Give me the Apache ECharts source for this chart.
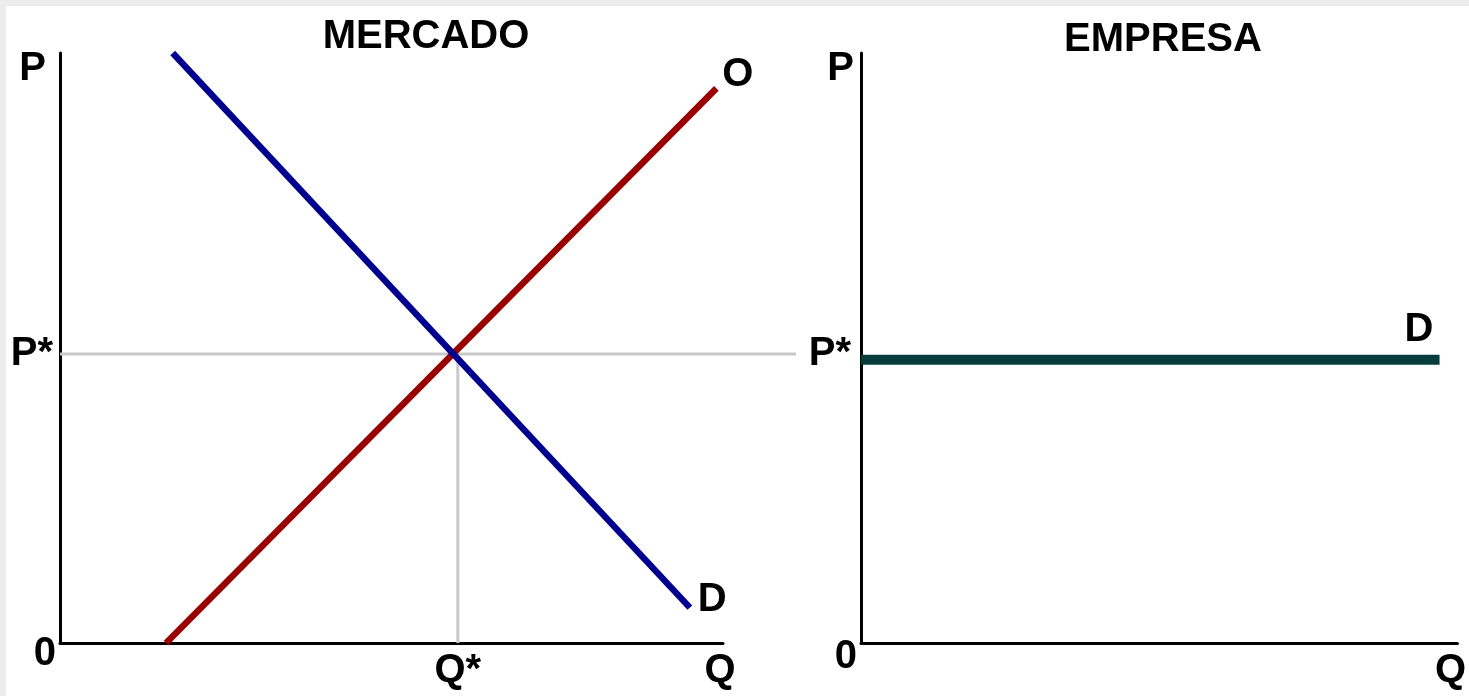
<!DOCTYPE html>
<html>
<head>
<meta charset="utf-8">
<title>Mercado y empresa</title>
<script src="https://cdn.jsdelivr.net/npm/echarts@6/dist/echarts.min.js"></script>
<style>
    html, body { margin: 0; padding: 0; }
    #frame { position: relative; width: 1469px; height: 696px; background: #ececec; }
    #paper { position: absolute; left: 6px; top: 6px; right: 0; bottom: 0; background: #fff; }
    #chart { position: absolute; left: 0; top: 0; width: 1469px; height: 696px; }
</style>
</head>
<body>
<div id="frame">
    <div id="paper"></div>
    <div id="chart"></div>
</div>
<script>
/* global echarts */

// 面板标题
var panelTitles = ['MERCADO', 'EMPRESA'];

// 市场：需求 D 与供给 O（Q, P）
var demandQ = [17, 95];
var demandP = [100, 6];
var supplyQ = [16, 99];
var supplyP = [0, 94];

// 均衡点
var eqQ = 60;
var eqP = 49;
// 水平虚线向右延伸到的位置（超出 Q 轴末端）
var guideEndQ = 111;

// 企业：水平需求线
var firmQ = [0, 97];
var firmP = [48, 48];

// 坐标轴文字
var axisNames = { price: 'P', quantity: 'Q' };
var tickText = { origin: '0', price: 'P*', quantity: 'Q*' };

var FONT = 'Liberation Sans';
var textBase = {
    fontFamily: FONT,
    fontWeight: 'bold',
    fontSize: 40,
    color: '#000'
};

// 市场面板的像素尺寸，辅助网格按同一比例延伸
var marketGrid = { left: 60, top: 53, width: 663, height: 590 };
var firmGrid = { left: 861, top: 53, width: 598, height: 590 };

function pairs(xs, ys) {
    return xs.map(function (x, i) {
        return [x, ys[i]];
    });
}

function xAxisFor(gridIndex, nameGap, labels) {
    return {
        type: 'value',
        gridIndex: gridIndex,
        min: 0,
        max: 100,
        name: axisNames.quantity,
        nameLocation: 'end',
        nameGap: nameGap,
        nameTextStyle: Object.assign({}, textBase, {
            align: 'center',
            verticalAlign: 'top',
            padding: [8, 0, 0, 0]
        }),
        axisLine: { show: true, onZero: false, lineStyle: { color: '#000', width: 3 } },
        axisTick: { show: false },
        splitLine: { show: false },
        axisLabel: Object.assign({}, textBase, {
            show: labels.length > 0,
            customValues: labels,
            margin: 8,
            formatter: function () {
                return tickText.quantity;
            }
        })
    };
}

function yAxisFor(gridIndex, namePad, zeroPad, starPad) {
    return {
        type: 'value',
        gridIndex: gridIndex,
        min: 0,
        max: 100,
        name: axisNames.price,
        nameLocation: 'end',
        nameGap: 4,
        nameTextStyle: Object.assign({}, textBase, {
            align: 'right',
            verticalAlign: 'top',
            padding: [0, namePad, 0, 0]
        }),
        axisLine: { show: true, onZero: false, lineStyle: { color: '#000', width: 3 } },
        axisTick: { show: false },
        splitLine: { show: false },
        axisLabel: Object.assign({}, textBase, {
            customValues: [0, eqP],
            margin: 4,
            formatter: function (v) {
                return v === 0 ? '{o|' + tickText.origin + '}' : '{p|' + tickText.price + '}';
            },
            rich: {
                o: Object.assign({}, textBase, { padding: [zeroPad, 0, 0, 0] }),
                p: Object.assign({}, textBase, { padding: [0, starPad, 0, 0] })
            }
        })
    };
}

function hiddenAxis(gridIndex, max) {
    return { type: 'value', gridIndex: gridIndex, min: 0, max: max, show: false };
}

function guide(data) {
    return {
        type: 'line',
        xAxisIndex: 2,
        yAxisIndex: 2,
        data: data,
        showSymbol: false,
        silent: true,
        z: 1,
        lineStyle: { color: '#c9c9cc', width: 3 }
    };
}

function showChart() {
    var chart = echarts.init(document.getElementById('chart'), null, { renderer: 'canvas' });
    chart.setOption({
        animation: false,
        backgroundColor: 'transparent',
        title: [
            {
                text: panelTitles[0],
                left: 421,
                top: 12,
                textAlign: 'center',
                textStyle: textBase
            },
            {
                text: panelTitles[1],
                left: 1158,
                top: 15,
                textAlign: 'center',
                textStyle: textBase
            }
        ],
        grid: [
            marketGrid,
            firmGrid,
            // 辅助网格：与市场面板同比例，但向右延伸到 guideEndQ
            {
                left: marketGrid.left,
                top: marketGrid.top,
                width: marketGrid.width * guideEndQ / 100,
                height: marketGrid.height
            }
        ],
        xAxis: [
            xAxisFor(0, -3, [eqQ]),
            xAxisFor(1, -7, []),
            hiddenAxis(2, guideEndQ)
        ],
        yAxis: [
            yAxisFor(0, 14, 22, 3),
            yAxisFor(1, 7, 28, 6),
            hiddenAxis(2, 100)
        ],
        series: [
            guide([[0, eqP], [guideEndQ, eqP]]),
            guide([[eqQ, eqP], [eqQ, 0]]),
            {
                name: 'O',
                type: 'line',
                xAxisIndex: 0,
                yAxisIndex: 0,
                data: pairs(supplyQ, supplyP),
                showSymbol: false,
                z: 3,
                lineStyle: { color: '#990000', width: 6.5 },
                endLabel: Object.assign({}, textBase, {
                    show: true,
                    formatter: 'O',
                    distance: 6,
                    offset: [0, -13]
                })
            },
            {
                name: 'D',
                type: 'line',
                xAxisIndex: 0,
                yAxisIndex: 0,
                data: pairs(demandQ, demandP),
                showSymbol: false,
                z: 3,
                lineStyle: { color: '#00008f', width: 6.5 },
                endLabel: Object.assign({}, textBase, {
                    show: true,
                    formatter: 'D',
                    distance: 8,
                    offset: [0, -8]
                })
            },
            {
                name: 'D empresa',
                type: 'line',
                xAxisIndex: 1,
                yAxisIndex: 1,
                data: pairs(firmQ, firmP),
                showSymbol: false,
                z: 3,
                lineStyle: { color: '#063c3c', width: 10 },
                endLabel: Object.assign({}, textBase, {
                    show: true,
                    formatter: 'D',
                    distance: 5,
                    offset: [-40, -30]
                })
            }
        ]
    });
}

showChart();
</script>
</body>
</html>
